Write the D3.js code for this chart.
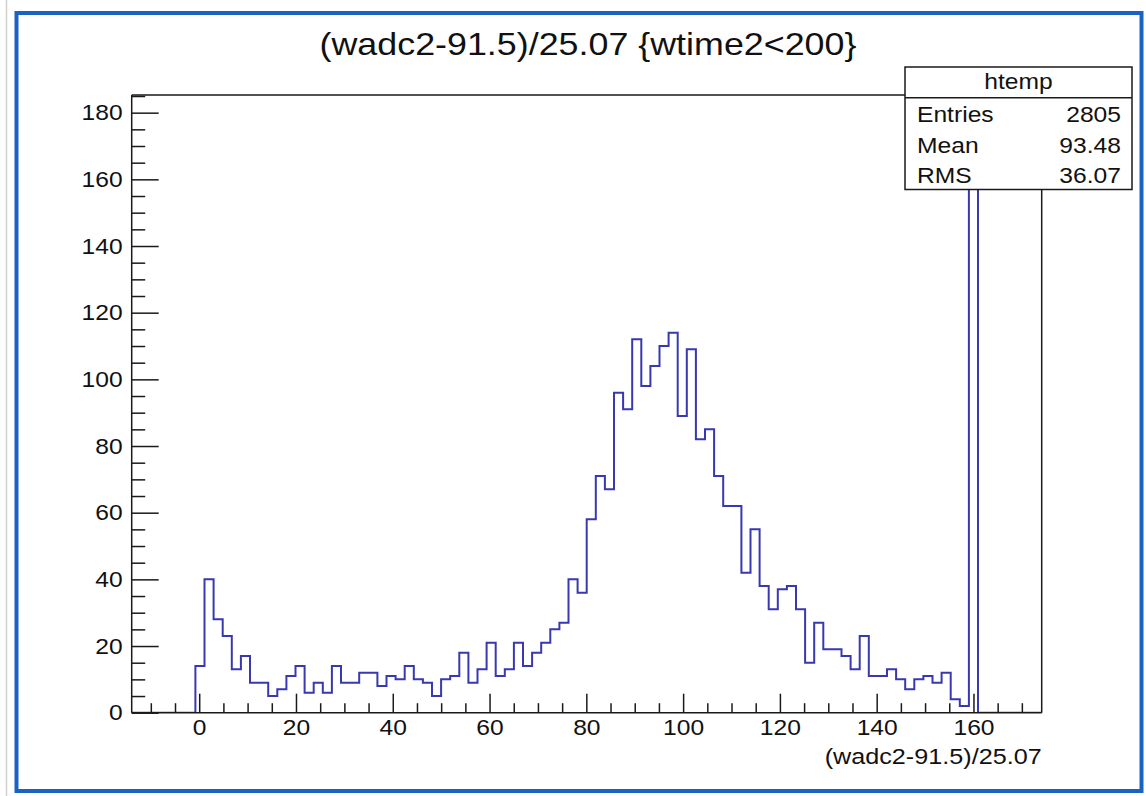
<!DOCTYPE html>
<html>
<head>
<meta charset="utf-8">
<script src="https://cdn.jsdelivr.net/npm/d3@7"></script>
<style>
  html, body { margin: 0; padding: 0; background: #ffffff; }
  svg { display: block; }
  text { font-family: "Liberation Sans", Arial, Helvetica, sans-serif; fill: #111; }
</style>
</head>
<body>
<svg id="chart" width="1146" height="796"></svg>
<script>
// ---------------- data ----------------
const histName = "htemp";
const titleText = "(wadc2-91.5)/25.07 {wtime2<200}";
const xAxisTitle = "(wadc2-91.5)/25.07";
const histRange = [-13.95, 174.1];          // histogram x range (100 bins)
const yRange = [0, 185.3];
const nBins = 100;
// bin contents, bins 0..99
const leadingZeros = [0, 0, 0, 0, 0, 0, 0];
const countsLow = [14, 40, 28, 23, 13, 17, 9, 9, 5, 7, 11, 14, 6, 9, 6, 14, 9, 9];
const countsMid = [12, 12, 8, 11, 10, 14, 10, 9, 5, 10, 11, 18, 9, 13, 21, 11, 13, 21, 14, 18, 21, 25, 27];
const countsPeak = [40, 36, 58, 71, 67, 96, 91, 112, 98, 104, 110, 114, 89, 109, 82, 85, 71, 62, 62, 42, 55, 38];
const countsTail = [31, 37, 38, 31, 15, 27, 19, 19, 17, 13, 23, 11, 11, 13, 10, 7, 10, 11, 9, 12, 4, 2];
const countsSpike = [177];
const trailingZeros = [0, 0, 0, 0, 0, 0, 0];
const xMajorTicks = [0, 20, 40, 60, 80, 100, 120, 140, 160];
const yMajorTicks = [0, 20, 40, 60, 80, 100, 120, 140, 160, 180];
const minorStep = 5;
const statsLabels = ["Entries", "Mean", "RMS"];
const statsValues = ["2805", "93.48", "36.07"];

const counts = [].concat(leadingZeros, countsLow, countsMid, countsPeak, countsTail, countsSpike, trailingZeros);

// ---------------- layout ----------------
const frame = { left: 131.7, right: 1041.7, top: 95, bottom: 712.7 };
const SX = 1.12; // horizontal stretch of the rendered font
const histColor = "#3838b0";
const axisColor = "#1a1a1a";

const svg = d3.select("#chart");

// outer canvas decoration
svg.append("line").attr("x1", 6.5).attr("x2", 6.5).attr("y1", 0).attr("y2", 796)
  .attr("stroke", "#d0d0d0").attr("stroke-width", 1.5);
svg.append("rect").attr("x", 16.5).attr("y", 13).attr("width", 1125).attr("height", 778)
  .attr("fill", "#ffffff").attr("stroke", "#1a62c4").attr("stroke-width", 4);

const x = d3.scaleLinear().domain(histRange).range([frame.left, frame.right]);
const y = d3.scaleLinear().domain(yRange).range([frame.bottom, frame.top]);

const binW = (histRange[1] - histRange[0]) / nBins;
const pts = counts.map((c, i) => [histRange[0] + i * binW, c]);
pts.push([histRange[1], counts[counts.length - 1]]);

svg.append("clipPath").attr("id", "clipFrame").append("rect")
  .attr("x", frame.left).attr("y", frame.top)
  .attr("width", frame.right - frame.left).attr("height", frame.bottom - frame.top);

const line = d3.line().x(d => x(d[0])).y(d => y(d[1])).curve(d3.curveStepAfter);
svg.append("path").datum(pts)
  .attr("clip-path", "url(#clipFrame)")
  .attr("d", line)
  .attr("fill", "none")
  .attr("stroke", histColor)
  .attr("stroke-width", 2)
  .attr("stroke-linejoin", "miter");

// frame (top and right edges)
svg.append("path")
  .attr("d", `M${frame.left},${frame.top}H${frame.right}V${frame.bottom}`)
  .attr("fill", "none").attr("stroke", axisColor).attr("stroke-width", 1.5);

function stretchText(sel, anchor) {
  sel.each(function () {
    const t = d3.select(this);
    const tx = +t.attr("x") || 0;
    const ty = +t.attr("y") || 0;
    t.attr("x", 0).attr("y", 0)
      .attr("transform", `translate(${tx},${ty}) scale(${SX},1)`);
  });
}

// minor ticks
const xMinor = d3.range(-10, 171, minorStep).filter(v => !xMajorTicks.includes(v));
const yMinor = d3.range(0, 186, minorStep).filter(v => !yMajorTicks.includes(v));

svg.append("g").attr("transform", `translate(0,${frame.bottom})`)
  .call(d3.axisBottom(x).tickValues(xMinor).tickSize(-9.5).tickFormat(""))
  .call(g => g.select(".domain").remove())
  .call(g => g.selectAll("line").attr("stroke", axisColor).attr("stroke-width", 1.5));

svg.append("g").attr("transform", `translate(${frame.left},0)`)
  .call(d3.axisLeft(y).tickValues(yMinor).tickSize(-13.5).tickFormat(""))
  .call(g => g.select(".domain").remove())
  .call(g => g.selectAll("line").attr("stroke", axisColor).attr("stroke-width", 1.5));

// major axes
const xAxisG = svg.append("g").attr("transform", `translate(0,${frame.bottom})`)
  .call(d3.axisBottom(x).tickValues(xMajorTicks).tickSize(-19).tickPadding(7).tickFormat(d3.format("d")));
xAxisG.select(".domain").attr("d", `M${frame.left},0H${frame.right}`)
  .attr("stroke", axisColor).attr("stroke-width", 1.5);
xAxisG.selectAll("line").attr("stroke", axisColor).attr("stroke-width", 1.5);
xAxisG.selectAll("text").attr("font-size", 22).attr("font-family", "Liberation Sans, Arial, sans-serif")
  .attr("fill", "#111").call(stretchText);

const yAxisG = svg.append("g").attr("transform", `translate(${frame.left},0)`)
  .call(d3.axisLeft(y).tickValues(yMajorTicks).tickSize(-27).tickPadding(9).tickFormat(d3.format("d")));
yAxisG.select(".domain").attr("d", `M0,${frame.top}V${frame.bottom}`)
  .attr("stroke", axisColor).attr("stroke-width", 1.5);
yAxisG.selectAll("line").attr("stroke", axisColor).attr("stroke-width", 1.5);
yAxisG.selectAll("text").attr("font-size", 22).attr("font-family", "Liberation Sans, Arial, sans-serif")
  .attr("fill", "#111").call(stretchText);

// title
svg.append("text")
  .attr("x", 588).attr("y", 55)
  .attr("text-anchor", "middle")
  .attr("font-size", 32)
  .attr("transform", `translate(588,55) scale(${SX},1) translate(-588,-55)`)
  .text(titleText);

// x axis title
svg.append("text")
  .attr("text-anchor", "end")
  .attr("font-size", 22.5)
  .attr("transform", `translate(${frame.right},764) scale(${SX},1)`)
  .text(xAxisTitle);

// stats box
const box = { x: 905, y: 67, w: 227, h: 122.5, div: 97.7 };
const sb = svg.append("g");
sb.append("rect").attr("x", box.x).attr("y", box.y).attr("width", box.w).attr("height", box.h)
  .attr("fill", "#ffffff").attr("stroke", axisColor).attr("stroke-width", 1.5);
sb.append("line").attr("x1", box.x).attr("x2", box.x + box.w).attr("y1", box.div).attr("y2", box.div)
  .attr("stroke", axisColor).attr("stroke-width", 1.5);
sb.append("text").attr("text-anchor", "middle").attr("font-size", 22)
  .attr("transform", `translate(${box.x + box.w / 2},89) scale(${SX},1)`)
  .text(histName);
const rowY = [121.7, 153.3, 182.7];
statsLabels.forEach((lab, i) => {
  sb.append("text").attr("font-size", 22)
    .attr("transform", `translate(917,${rowY[i]}) scale(${SX},1)`).text(lab);
  sb.append("text").attr("font-size", 22).attr("text-anchor", "end")
    .attr("transform", `translate(1121,${rowY[i]}) scale(${SX},1)`).text(statsValues[i]);
});
</script>
</body>
</html>
